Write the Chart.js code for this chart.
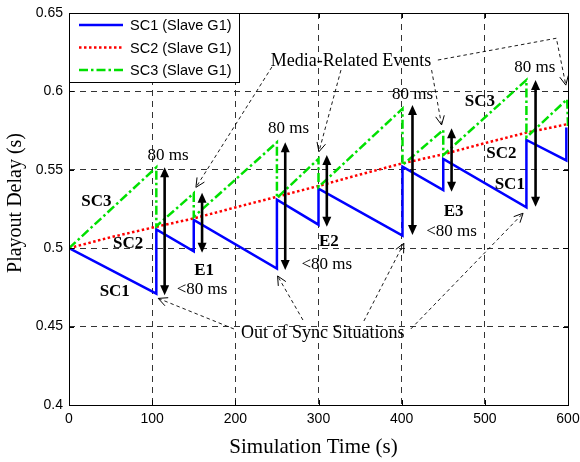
<!DOCTYPE html>
<html><head><meta charset="utf-8">
<script src="https://cdn.jsdelivr.net/npm/chart.js@4.4.0/dist/chart.umd.min.js"></script>
<style>html,body{margin:0;padding:0;background:#fff;}#wrap{width:580px;height:462px;}</style>
</head><body><div id="wrap"><canvas id="c" width="580" height="462"></canvas></div>
<script>
// ---- series data (time in s, playout delay in s) ----
const sc1Time  = [0, 105, 105, 150, 150, 250, 250, 300, 300, 401, 401, 450, 450, 550, 550, 598, 598];
const sc1Delay = [0.500, 0.471, 0.512, 0.498, 0.518, 0.487, 0.531, 0.515, 0.538, 0.508, 0.552, 0.537, 0.557, 0.526, 0.569, 0.556, 0.577];
const sc2Time  = [0, 50, 105, 150, 200, 250, 300, 350, 400, 450, 500, 550, 600];
const sc2Delay = [0.500, 0.507, 0.5137, 0.519, 0.526, 0.5328, 0.5397, 0.547, 0.554, 0.5599, 0.567, 0.5737, 0.5792];
const sc3Time  = [0, 105, 105, 150, 150, 250, 250, 300, 300, 401, 401, 450, 450, 550, 550, 599, 600];
const sc3Delay = [0.500, 0.5516, 0.514, 0.535, 0.520, 0.5675, 0.532, 0.557, 0.539, 0.589, 0.553, 0.5754, 0.5594, 0.6073, 0.5707, 0.595, 0.578];
const seriesLabels = ['SC1 (Slave G1)', 'SC2 (Slave G1)', 'SC3 (Slave G1)'];

// ---- axis ticks ----
const xTicks = [0, 100, 200, 300, 400, 500, 600];
const yTicks = [0.4, 0.45, 0.5, 0.55, 0.6, 0.65];
const xTitle = 'Simulation Time (s)';
const yTitle = 'Playout Delay (s)';

// ---- annotations (data coordinates) ----
const syncArrowTime   = [115, 260, 413, 561];
const syncArrowTop    = [0.5516, 0.5675, 0.5913, 0.6073];
const syncArrowBottom = [0.470, 0.4861, 0.5084, 0.5265];
const syncLabelTime   = [119, 264, 413, 560];
const syncLabelDelay  = [0.559, 0.5765, 0.598, 0.6155];
const syncLabelText   = '80 ms';

const eventArrowTime   = [160, 310, 460];
const eventArrowTop    = [0.5354, 0.5594, 0.5765];
const eventArrowBottom = [0.4971, 0.5137, 0.536];
const eventNames       = ['E1', 'E2', 'E3'];
const eventNameDelay   = [0.486, 0.504, 0.5233];
const eventLessDelay   = [0.4735, 0.4897, 0.5105];
const eventLessText    = '<80 ms';

const tagText  = ['SC3', 'SC2', 'SC1', 'SC3', 'SC2', 'SC1'];
const tagTime  = [33, 71, 55, 494, 520, 530];
const tagDelay = [0.530, 0.503, 0.4723, 0.5934, 0.5605, 0.5403];

const mediaText = 'Media-Related Events';
const mediaTextPos = [339, 0.6194];
const mediaPointers = [
  [[244, 0.6156], [152.6, 0.5388]],
  [[327, 0.6136], [300.5, 0.5615]],
  [[436, 0.6136], [448, 0.5786]],
  [[443.5, 0.620], [586, 0.6339], [597.4, 0.604]]
];
const syncText = 'Out of Sync Situations';
const syncTextPos = [305, 0.4459];
const syncPointers = [
  [[198.3, 0.4485], [107.3, 0.468]],
  [[281.3, 0.4542], [250.8, 0.4823]],
  [[354.6, 0.4536], [402.6, 0.5031]],
  [[411, 0.4485], [546, 0.5223]]
];

const toXY = (t, v) => t.map((x, i) => ({x: x, y: v[i]}));
const SERIF = '"Liberation Serif", "Times New Roman", serif';
const SANS = '"Liberation Sans", Arial, sans-serif';

const overlay = {
  id: 'overlay',
  afterDatasetsDraw(chart) {
    const ctx = chart.ctx, xs = chart.scales.x, ys = chart.scales.y, a = chart.chartArea;
    const px = t => xs.getPixelForValue(t), py = v => ys.getPixelForValue(v);
    ctx.save();
    // frame
    ctx.strokeStyle = '#000'; ctx.lineWidth = 1; ctx.setLineDash([]);
    ctx.strokeRect(Math.round(a.left) + 0.5, Math.round(a.top) + 0.5, Math.round(a.right - a.left), Math.round(a.bottom - a.top));
    // inner ticks
    ctx.beginPath();
    xTicks.forEach(t => { const x = Math.round(px(t)) + 0.5; ctx.moveTo(x, a.bottom); ctx.lineTo(x, a.bottom - 5); ctx.moveTo(x, a.top); ctx.lineTo(x, a.top + 5); });
    yTicks.forEach(v => { const y = Math.round(py(v)) + 0.5; ctx.moveTo(a.left, y); ctx.lineTo(a.left + 5, y); ctx.moveTo(a.right, y); ctx.lineTo(a.right - 5, y); });
    ctx.stroke();

    // double-headed arrows
    ctx.fillStyle = '#000'; ctx.strokeStyle = '#000';
    const dbl = (t, top, bot) => {
      const x = px(t), y1 = py(top), y2 = py(bot), hl = 10, hw = 4.5;
      ctx.setLineDash([]); ctx.lineWidth = 2.6;
      ctx.beginPath(); ctx.moveTo(x, y1 + hl - 1); ctx.lineTo(x, y2 - hl + 1); ctx.stroke();
      ctx.beginPath(); ctx.moveTo(x, y1); ctx.lineTo(x - hw, y1 + hl); ctx.lineTo(x + hw, y1 + hl); ctx.closePath(); ctx.fill();
      ctx.beginPath(); ctx.moveTo(x, y2); ctx.lineTo(x - hw, y2 - hl); ctx.lineTo(x + hw, y2 - hl); ctx.closePath(); ctx.fill();
    };
    syncArrowTime.forEach((t, i) => dbl(t, syncArrowTop[i], syncArrowBottom[i]));
    eventArrowTime.forEach((t, i) => dbl(t, eventArrowTop[i], eventArrowBottom[i]));

    // dashed pointers
    const pointer = path => {
      const pts = path.map(p => [px(p[0]), py(p[1])]);
      ctx.lineWidth = 0.9; ctx.setLineDash([3.5, 3]);
      ctx.beginPath(); ctx.moveTo(pts[0][0], pts[0][1]);
      for (let i = 1; i < pts.length; i++) ctx.lineTo(pts[i][0], pts[i][1]);
      ctx.stroke();
      const [tx, ty] = pts[pts.length - 1], [sx, sy] = pts[pts.length - 2];
      const ang = Math.atan2(ty - sy, tx - sx), L = 10, w = 0.45;
      ctx.setLineDash([]); ctx.lineWidth = 1;
      ctx.beginPath();
      ctx.moveTo(tx - L * Math.cos(ang - w), ty - L * Math.sin(ang - w));
      ctx.lineTo(tx, ty);
      ctx.lineTo(tx - L * Math.cos(ang + w), ty - L * Math.sin(ang + w));
      ctx.stroke();
    };
    mediaPointers.forEach(pointer);
    syncPointers.forEach(pointer);

    // texts
    ctx.setLineDash([]);
    ctx.textAlign = 'center'; ctx.textBaseline = 'middle'; ctx.fillStyle = '#000';
    ctx.font = '17px ' + SERIF;
    syncLabelTime.forEach((t, i) => ctx.fillText(syncLabelText, px(t), py(syncLabelDelay[i])));
    eventArrowTime.forEach((t, i) => ctx.fillText(eventLessText, px(t), py(eventLessDelay[i])));
    ctx.font = '18px ' + SERIF;
    ctx.fillText(mediaText, px(mediaTextPos[0]), py(mediaTextPos[1]));
    ctx.fillText(syncText, px(syncTextPos[0]), py(syncTextPos[1]));
    ctx.font = 'bold 17px ' + SERIF;
    eventArrowTime.forEach((t, i) => ctx.fillText(eventNames[i], px(t) + 2, py(eventNameDelay[i])));
    tagText.forEach((s, i) => ctx.fillText(s, px(tagTime[i]), py(tagDelay[i])));
    ctx.restore();
  },
  afterDraw(chart) {
    const ctx = chart.ctx, a = chart.chartArea;
    ctx.save();
    // legend
    const lx = a.left, ly = a.top, lw = 170, lh = 69;
    ctx.fillStyle = '#fff'; ctx.fillRect(lx, ly, lw, lh);
    ctx.strokeStyle = '#000'; ctx.lineWidth = 1; ctx.setLineDash([]);
    ctx.strokeRect(Math.round(lx) + 0.5, Math.round(ly) + 0.5, lw, lh);
    ctx.font = '14.5px ' + SANS; ctx.textBaseline = 'middle'; ctx.textAlign = 'left';
    chart.data.datasets.forEach((ds, i) => {
      const y = ly + 12 + i * 22.5;
      ctx.strokeStyle = ds.borderColor; ctx.lineWidth = ds.borderWidth; ctx.setLineDash(ds.borderDash || []);
      ctx.beginPath(); ctx.moveTo(lx + 10, y); ctx.lineTo(lx + 54, y); ctx.stroke();
      ctx.setLineDash([]); ctx.fillStyle = '#000';
      ctx.fillText(ds.label, lx + 61, y + 1);
    });
    // axis titles
    ctx.fillStyle = '#000'; ctx.textAlign = 'center'; ctx.textBaseline = 'middle';
    ctx.font = '21px ' + SERIF;
    ctx.fillText(xTitle, (a.left + a.right) / 2 - 5, 447);
    ctx.font = '20px ' + SERIF;
    ctx.translate(16, (a.top + a.bottom) / 2 - 6);
    ctx.rotate(-Math.PI / 2);
    ctx.fillText(yTitle, 0, 0);
    ctx.restore();
  }
};

new Chart(document.getElementById('c'), {
  type: 'line',
  data: {
    datasets: [
      {label: seriesLabels[0], data: toXY(sc1Time, sc1Delay), borderColor: '#0000ff', borderWidth: 2.5, borderDash: [], order: 3},
      {label: seriesLabels[1], data: toXY(sc2Time, sc2Delay), borderColor: '#ff0000', borderWidth: 2.5, borderDash: [2.5, 2.5], order: 2},
      {label: seriesLabels[2], data: toXY(sc3Time, sc3Delay), borderColor: '#00e000', borderWidth: 2.5, borderDash: [9, 3, 2.5, 3], order: 1}
    ]
  },
  options: {
    responsive: false, animation: false,
    layout: {padding: {left: 0, right: 12, top: 13, bottom: 0}},
    elements: {point: {radius: 0}, line: {tension: 0, borderCapStyle: 'butt'}},
    plugins: {legend: {display: false}, tooltip: {enabled: false}},
    scales: {
      x: {
        type: 'linear', min: 0, max: 600,
        afterBuildTicks: s => { s.ticks = xTicks.map(v => ({value: v})); },
        afterFit: s => { s.height = 57; s.paddingLeft = 0; s.paddingRight = 0; },
        ticks: {font: {family: SANS, size: 14}, color: '#000', padding: 6, maxRotation: 0, callback: v => String(v)},
        grid: {color: '#333', lineWidth: 1, drawTicks: false},
        border: {display: false, dash: [6, 5]}
      },
      y: {
        type: 'linear', min: 0.4, max: 0.65,
        afterBuildTicks: s => { s.ticks = yTicks.map(v => ({value: v})); },
        afterFit: s => { s.width = 69; s.paddingTop = 0; s.paddingBottom = 0; },
        ticks: {font: {family: SANS, size: 14}, color: '#000', padding: 6, callback: v => String(parseFloat(Number(v).toFixed(2)))},
        grid: {color: '#333', lineWidth: 1, drawTicks: false},
        border: {display: false, dash: [6, 5]}
      }
    }
  },
  plugins: [overlay]
});
</script></body></html>
